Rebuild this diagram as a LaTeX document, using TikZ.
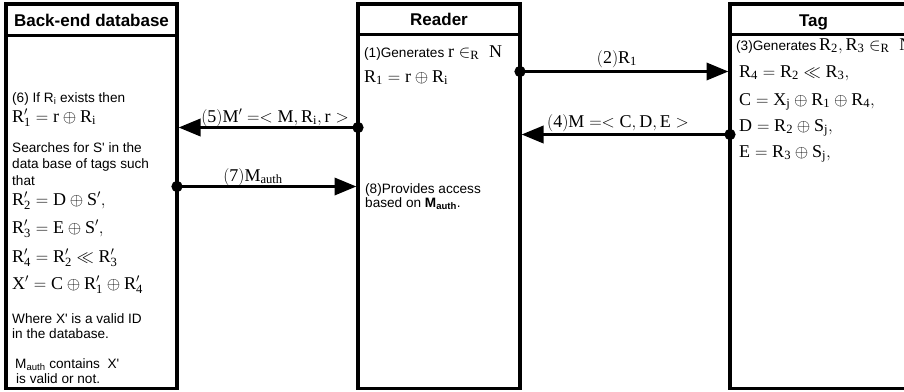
\documentclass[tikz,border=0pt]{standalone}
\usepackage{fontspec}
\setmainfont{Liberation Serif}
\setsansfont{Liberation Sans}
\usetikzlibrary{arrows.meta}
\newcommand{\mfont}{\fontsize{18}{21}\selectfont}
\newcommand{\sfnt}{\sffamily\fontsize{13.6}{16}\selectfont}
\newcommand{\myq}{\textquotesingle}
\begin{document}
\begin{tikzpicture}[x=1pt,y=-1pt,
 box/.style={draw,line width=3.5pt,inner sep=0pt,outer sep=0pt},
 hdrline/.style={line width=3pt},
 title/.style={font=\sffamily\bfseries\fontsize{17}{20}\selectfont,anchor=base,inner sep=0pt},
 txt/.style={font=\sfnt,anchor=base west,inner sep=0pt},
 eq/.style={font=\mfont,anchor=base west,inner sep=0pt},
 lbl/.style={font=\mfont,anchor=base,inner sep=0pt},
 msg/.style={line width=3.5pt,{Circle[length=11pt]}-{Triangle[length=22pt,width=17pt]},shorten <=-5.5pt,shorten >=1.5pt}]
\clip (0,0) rectangle (904,391);
% boxes
\node[box,minimum width=171pt,minimum height=384.5pt] (db) at (91.5,196.25) {};
\node[box,minimum width=162pt,minimum height=384.5pt] (reader) at (439,196.25) {};
\node[box,minimum width=176pt,minimum height=384.5pt] (tag) at (818,196.25) {};
% header separators
\coordinate (h1) at (0,35);
\coordinate (h2) at (0,34);
\draw[hdrline] (db.west |- h1) -- (db.east |- h1);
\draw[hdrline] (reader.west |- h2) -- (reader.east |- h2);
\draw[hdrline] (tag.west |- h2) -- (tag.east |- h2);
% titles
\node[title] (tdb) at (91.5,26.5) {Back-end database};
\node[title] (trd) at (439,25) {Reader};
\node[title] (ttg) at (813.5,26) {Tag};
% back-end text
\node[txt] (b1) at (12,102) {(6) If R\textsubscript{i} exists then};
\node[eq] (b2) at (12,122) {$\mathrm{R'_1 = r \oplus R_i}$};
\node[txt] (b3) at (12,152) {Searches for S\myq{} in the};
\node[txt] (b4) at (12,168) {data base of tags such};
\node[txt] (b5) at (12,185) {that};
\node[eq] (b6) at (12,205) {$\mathrm{R'_2 = D\oplus S',}$};
\node[eq] (b7) at (12,233) {$\mathrm{R'_3 = E\oplus S',}$};
\node[eq] (b8) at (12,262) {$\mathrm{R'_4 = R'_2 \ll R'_3}$};
\node[eq] (b9) at (12,289) {$\mathrm{X' = C\oplus R'_1\oplus R'_4}$};
\node[txt] (b10) at (12,323) {Where X\myq{} is a valid ID};
\node[txt] (b11) at (12,338) {in the database.};
\node[txt] (b12) at (15,368) {M\textsubscript{auth} contains\ \ X\myq};
\node[txt] (b13) at (16,383) {is valid or not.};
% reader text
\node[txt] (r1) at (364,57) {(1)Generates\ {\mfont$\mathrm{r\in_R\ N}$}};
\node[eq] (r2) at (364,82) {$\mathrm{R_1 = r\oplus R_i}$};
\node[txt] (r3) at (365,193) {(8)Provides access};
\node[txt] (r4) at (365,207) {based on \textbf{M\textsubscript{auth}}.};
% tag text
\node[txt] (g1) at (736,50) {(3)Generates{\mfont$\mathrm{\,R_2, R_3 \in_R\ N}$}};
\node[eq] (g2) at (739,77) {$\mathrm{R_4 = R_2 \ll R_3,}$};
\node[eq] (g3) at (739,105) {$\mathrm{C = X_j \oplus R_1 \oplus R_4,}$};
\node[eq] (g4) at (739,131) {$\mathrm{D = R_2 \oplus S_j,}$};
\node[eq] (g5) at (739,157) {$\mathrm{E = R_3 \oplus S_j,}$};
% messages
\coordinate (a2) at (0,71.5);
\coordinate (a4) at (0,134.5);
\coordinate (a5) at (0,127.5);
\coordinate (a7) at (0,186.5);
\draw[msg] (reader.east |- a2) -- (tag.west |- a2);
\draw[msg] (tag.west |- a4) -- (reader.east |- a4);
\draw[msg] (reader.west |- a5) -- (db.east |- a5);
\draw[msg] (db.east |- a7) -- (reader.west |- a7);
\node[lbl] (l2) at (617,63) {$\mathrm{(2)R_1}$};
\node[lbl] (l4) at (618,127) {$\mathrm{(4)M = < C, D, E >}$};
\node[lbl] (l5) at (275,122) {$\mathrm{(5)M' = < M, R_i, r >}$};
\node[lbl] (l7) at (253,181) {$\mathrm{(7)M_{auth}}$};
\end{tikzpicture}
\end{document}
